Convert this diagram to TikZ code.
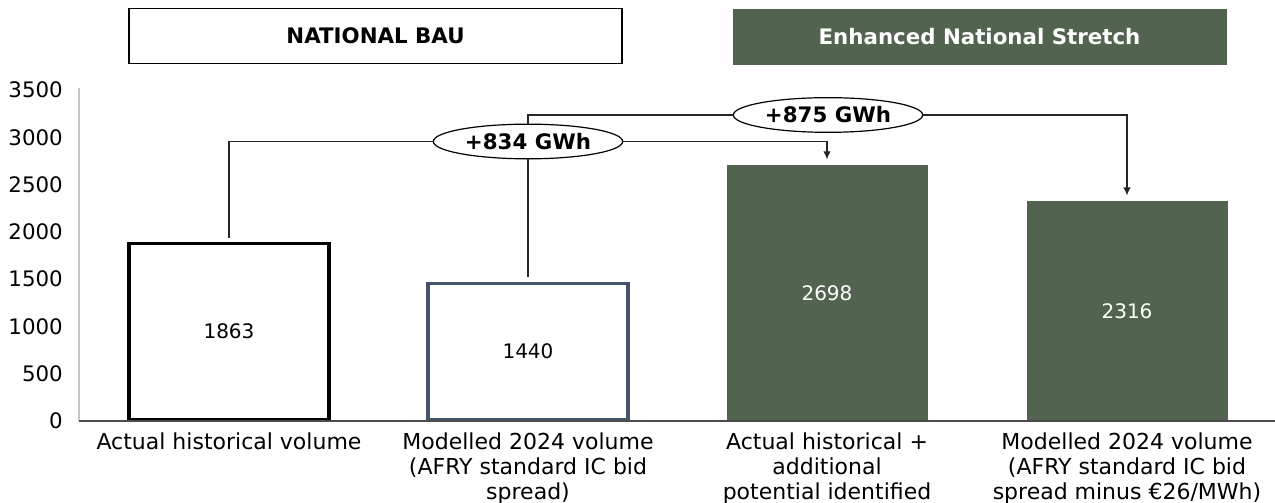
\documentclass[tikz,border=0pt]{standalone}
\usepackage{fontspec}
\setmainfont{DejaVu Sans}
\usetikzlibrary{positioning,shapes.geometric,arrows.meta}
\definecolor{afrygreen}{RGB}{82,100,79}
\definecolor{slateblue}{RGB}{68,84,106}
\begin{document}
\begin{tikzpicture}[x=0.75pt,y=0.75pt,every node/.style={inner sep=0pt}]
\tikzstyle{arrow}=[draw,-{Latex[length=6pt,width=5.5pt]}]
\tikzstyle{conn}=[line width=0.8pt,black!85]
\tikzstyle{bar}=[draw,anchor=south,minimum width=150pt,font=\fontsize{15}{18}\selectfont]
\tikzstyle{bubble}=[ellipse,draw,fill=white,line width=0.9pt,minimum width=142pt,minimum height=26pt,font=\bfseries\fontsize{16}{19}\selectfont]
\tikzstyle{head}=[draw,minimum width=369.75pt,minimum height=41.25pt,font=\bfseries\fontsize{16}{19}\selectfont]
\tikzstyle{cat}=[align=center,anchor=north,font=\fontsize{16.5}{18.4}\selectfont]
\useasboundingbox (0,-82) rectangle (1275,421);

% value axis
\draw[black!22,line width=1pt] (79,0) -- (79,333);
\foreach \v in {0,500,...,3500}
  \node[anchor=east,font=\fontsize{16}{19}\selectfont] (y\v) at (63,{\v*0.094571}) {\v};

% bars
\node[bar,line width=2.4pt,minimum height={1863*0.0709pt}] (b1) at (229,0) {1863};
\node[bar,line width=2.4pt,draw=slateblue,minimum height={1440*0.0709pt}] (b2) at (528,0) {1440};
\node[bar,draw=afrygreen,fill=afrygreen,text=white,minimum height={2698*0.0709pt}] (b3) at (827,0) {2698};
\node[bar,draw=afrygreen,fill=afrygreen,text=white,minimum height={2316*0.0709pt}] (b4) at (1127,0) {2316};
\draw[black!70,line width=1.3pt] (79,0) -- (1275,0);

% scenario headers
\node[head,line width=1pt,fill=white] (h1) at (375.5,385) {NATIONAL BAU};
\node[head,draw=afrygreen,fill=afrygreen,text=white] (h2) at (979.5,384.5) {Enhanced National Stretch};

% category labels
\node[cat,below=9pt of b1] (c1) {Actual historical volume};
\node[cat,below=9pt of b2] (c2) {Modelled 2024 volume\\(AFRY standard IC bid\\spread)};
\node[cat,below=9pt of b3] (c3) {Actual historical +\\additional\\potential identified};
\node[cat,below=9pt of b4] (c4) {Modelled 2024 volume\\(AFRY standard IC bid\\spread minus €26/MWh)};

% differences
\node[bubble] (g1) at (528,279.5) {+834 GWh};
\node[bubble] (g2) at (828,306) {+875 GWh};
\draw[conn] ([yshift=3pt]b1.north) |- (g1.west);
\draw[conn] ([yshift=3.5pt]b2.north) -- (g1.south);
\draw[conn] (g1.north) |- (g2.west);
\draw[arrow,conn] (g1.east) -| ([yshift=4.5pt]b3.north);
\draw[arrow,conn] (g2.east) -| ([yshift=4.5pt]b4.north);
\end{tikzpicture}
\end{document}
